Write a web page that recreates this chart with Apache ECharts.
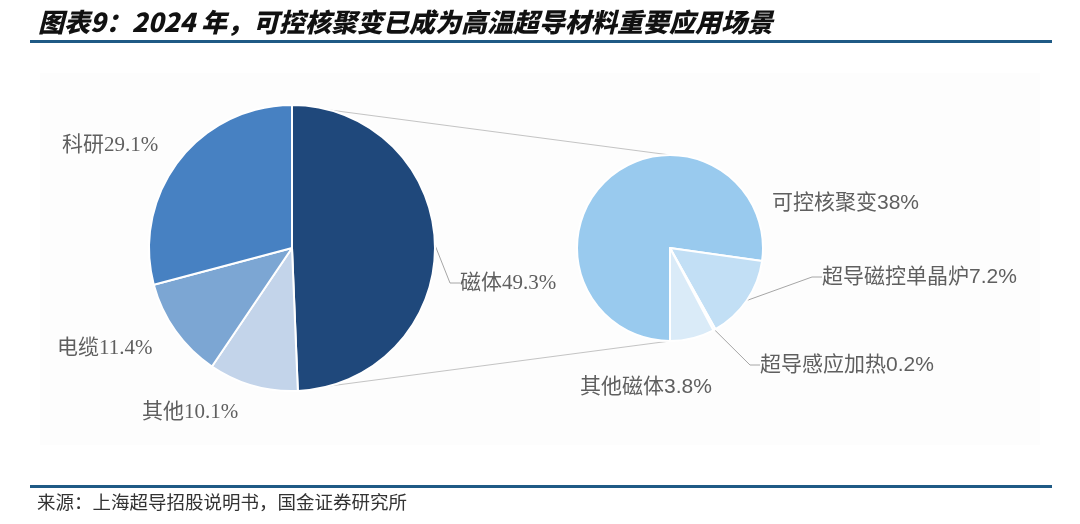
<!DOCTYPE html>
<html style="height: 100%">
<head>
    <meta charset="utf-8">
</head>
<body style="height: 100%; margin: 0; background: #fff">
<div id="container" style="width: 1080px; height: 524px"></div>
<script type="text/javascript" src="https://cdn.jsdelivr.net/npm/echarts@6.0.0/dist/echarts.min.js"></script>
<script type="text/javascript">
// 主饼图：高温超导材料应用结构
var mainNames = ['磁体', '其他', '电缆', '科研'];
var mainValues = [49.3, 10.1, 11.4, 29.1];
// 子饼图：磁体细分
var subNames = ['可控核聚变', '超导磁控单晶炉', '超导感应加热', '其他磁体'];
var subValues = [38, 7.2, 0.2, 3.8];

var mainColors = ['#1f487b', '#c3d4ea', '#7ca6d3', '#4781c2'];
var subColors = ['#99caee', '#c2dff5', '#eaf4fc', '#daebf8'];
// 标签位置（文字左端 x，中线 y）
var mainLabelPos = [[460, 283], [142, 412], [57, 348], [62, 145]];
var subLabelPos = [[772, 203], [822, 277], [760, 365], [580, 387]];
var withLine = ['磁体', '超导磁控单晶炉', '超导感应加热'];

var mainCenter = [292, 248], mainR = 143;
var subCenter = [670, 248], subR = 93;

var dom = document.getElementById('container');
var myChart = echarts.init(dom);

function buildData(names, values, colors) {
    return names.map(function (n, i) {
        return {
            name: n,
            value: values[i],
            itemStyle: {color: colors[i]},
            labelLine: {show: withLine.indexOf(n) >= 0}
        };
    });
}

var option = {
    animation: false,
    backgroundColor: '#fff',
    graphic: [
        {type: 'rect', z: 0, shape: {x: 40, y: 73, width: 1000, height: 372}, style: {fill: '#fdfdfd'}},
        {type: 'text', x: 38, y: 22, style: {
            text: '图表9：2024 年，可控核聚变已成为高温超导材料重要应用场景',
            fontFamily: '"Noto Sans CJK SC"', fontSize: 26, fontWeight: 900, fontStyle: 'italic',
            fill: '#111', verticalAlign: 'middle'
        }},
        {type: 'rect', shape: {x: 30, y: 40, width: 1022, height: 3}, style: {fill: '#1f5a85'}},
        {type: 'rect', shape: {x: 30, y: 485, width: 1022, height: 3}, style: {fill: '#1f5a85'}},
        {type: 'text', x: 37, y: 502, style: {
            text: '来源：上海超导招股说明书，国金证券研究所',
            fontFamily: '"Noto Sans CJK SC"', fontSize: 18.5, fill: '#333', verticalAlign: 'middle'
        }},
        // 连接两个饼图的引导线
        {type: 'line', z: 1, shape: {x1: mainCenter[0], y1: mainCenter[1] - mainR, x2: subCenter[0], y2: subCenter[1] - subR},
            style: {stroke: '#c4c4c4', lineWidth: 1.2}},
        {type: 'line', z: 1, shape: {x1: mainCenter[0], y1: mainCenter[1] + mainR, x2: subCenter[0], y2: subCenter[1] + subR},
            style: {stroke: '#c4c4c4', lineWidth: 1.2}}
    ],
    series: [
        {
            type: 'pie',
            silent: true,
            center: mainCenter,
            radius: mainR,
            startAngle: 90,
            clockwise: true,
            itemStyle: {borderColor: '#fff', borderWidth: 2},
            label: {
                show: true,
                position: 'outside',
                formatter: '{b}{c}%',
                fontSize: 21,
                color: '#5f5f5f',
                fontFamily: '"Liberation Serif", "Noto Sans CJK SC"'
            },
            labelLine: {show: false, length: 10, length2: 10, lineStyle: {color: '#a6a6a6', width: 1}},
            labelLayout: function (p) {
                var pos = mainLabelPos[p.dataIndex];
                return {x: pos[0], y: pos[1], align: 'left', verticalAlign: 'middle'};
            },
            data: buildData(mainNames, mainValues, mainColors)
        },
        {
            type: 'pie',
            silent: true,
            center: subCenter,
            radius: subR,
            startAngle: 270,
            clockwise: true,
            itemStyle: {borderColor: '#fff', borderWidth: 2},
            label: {
                show: true,
                position: 'outside',
                formatter: '{b}{c}%',
                fontSize: 21,
                color: '#5f5f5f',
                fontFamily: '"Liberation Sans", "Noto Sans CJK SC"'
            },
            labelLine: {show: false, length: 10, length2: 10, lineStyle: {color: '#a6a6a6', width: 1}},
            labelLayout: function (p) {
                var pos = subLabelPos[p.dataIndex];
                return {x: pos[0], y: pos[1], align: 'left', verticalAlign: 'middle'};
            },
            data: buildData(subNames, subValues, subColors)
        }
    ]
};

myChart.setOption(option);
</script>
</body>
</html>
